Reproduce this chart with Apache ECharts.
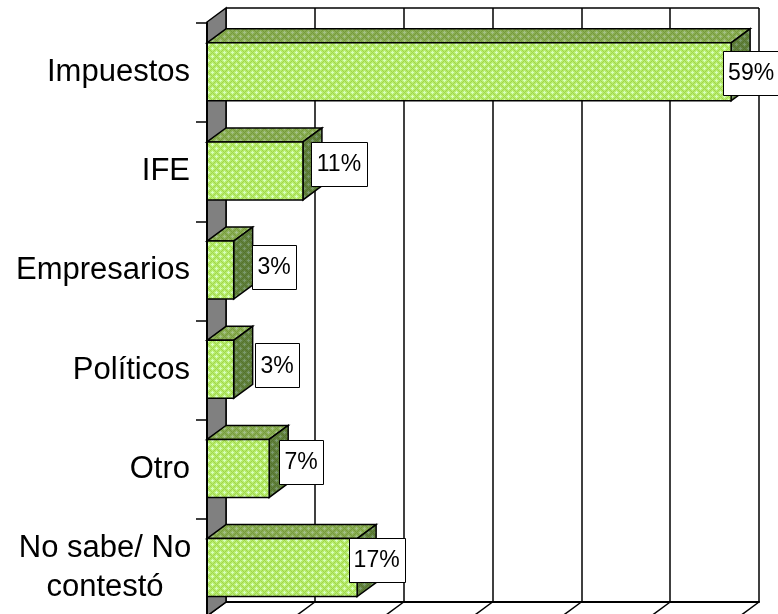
<!DOCTYPE html>
<html>
<head>
<meta charset="utf-8">
<style>html,body{margin:0;padding:0;background:#fff}#c{width:778px;height:614px}</style>
<script src="https://cdn.jsdelivr.net/npm/echarts@6/dist/echarts.min.js"></script>
</head>
<body>
<div id="c"></div>
<script>
const categories = ['Impuestos', 'IFE', 'Empresarios', 'Políticos', 'Otro', 'No sabe/ No\ncontestó'];
const values = [59, 10.8, 3, 3, 7, 16.9];
const valueTicks = [0, 10, 20, 30, 40, 50, 60];
// hand-placed data label nudges in the original (dx from bar end, dy from bar centre)
const labelDx = [20, 36, 40.5, 43.5, 32, 19.5];
const labelDy = [1.2, -7.2, -3.2, -4.1, -6.8, -8];

const DEPTH_X = 19, DEPTH_Y = 14, BAR_H = 58, BAR_SHIFT = -0.8;
const FONT = '"Liberation Sans", Arial, sans-serif';

function pattern(base, light, dark) {
  const s = 8, cv = document.createElement('canvas');
  cv.width = s; cv.height = s;
  const g = cv.getContext('2d');
  g.fillStyle = base; g.fillRect(0, 0, s, s);
  g.fillStyle = dark;
  for (let i = 0; i < s; i++) {
    g.fillRect(i, i, 1, 1);
    g.fillRect(i, (s - i) % s, 1, 1);
  }
  g.fillStyle = light;
  [[4,0],[0,4]].forEach(([x, y]) => {
    [[0,0],[1,0],[-1,0],[0,1],[0,-1]].forEach(([a, b]) => g.fillRect((x+a+s)%s, (y+b+s)%s, 1, 1));
  });
  return { image: cv, repeat: 'repeat' };
}
const frontFill = pattern('#b8ec70', '#d8ffc0', '#a0d848');
const topFill = pattern('#8aae54', '#a4c088', '#769a3c');
const sideFill = pattern('#62823e', '#7c9a70', '#54722c');
const wallFill = '#808080';

function renderBar(params, api) {
  const idx = api.value(2);
  const p0 = api.coord([0, idx]);
  const p1 = api.coord([api.value(0), idx]);
  const x0 = p0[0], x1 = p1[0], yc = p1[1] + BAR_SHIFT;
  const t = yc - BAR_H / 2, b = yc + BAR_H / 2;
  const line = { stroke: '#000', lineWidth: 1.5 };
  const poly = (pts, fill) => ({ type: 'polygon', shape: { points: pts }, style: Object.assign({ fill }, line) });
  const cx = x1 + labelDx[idx], cy = yc + labelDy[idx];
  const txt = Math.round(api.value(1));
  const w = String(txt).length > 1 ? 56 : 44, h = 44;
  return {
    type: 'group',
    children: [
      poly([[x0, t], [x0 + DEPTH_X, t - DEPTH_Y], [x1 + DEPTH_X, t - DEPTH_Y], [x1, t]], topFill),
      poly([[x1, t], [x1 + DEPTH_X, t - DEPTH_Y], [x1 + DEPTH_X, b - DEPTH_Y], [x1, b]], sideFill),
      poly([[x0, t], [x1, t], [x1, b], [x0, b]], frontFill),
      { type: 'rect', shape: { x: Math.round(cx - w / 2) + 0.5, y: Math.round(cy - h / 2) + 0.5, width: w, height: h },
        style: { fill: '#fff', stroke: '#000', lineWidth: 1 } },
      { type: 'text', x: cx, y: cy + 1,
        style: { text: txt + '%', fill: '#000', font: '23px ' + FONT, align: 'center', verticalAlign: 'middle' } }
    ]
  };
}

function renderWall(params, api) {
  const top = api.coord([0, 1]), bot = api.coord([0, 0]);
  return {
    type: 'polygon',
    shape: { points: [[top[0] - DEPTH_X, top[1] + DEPTH_Y], top, bot, [bot[0] - DEPTH_X, bot[1] + DEPTH_Y]] },
    style: { fill: wallFill, stroke: '#000', lineWidth: 1.5 }
  };
}

function renderFloorTick(params, api) {
  const p = api.coord([api.value(0), 0]);
  return { type: 'line', shape: { x1: p[0], y1: p[1], x2: p[0] - DEPTH_X, y2: p[1] + DEPTH_Y },
    style: { stroke: '#000', lineWidth: 1.5 } };
}

const chart = echarts.init(document.getElementById('c'), null, { renderer: 'canvas', width: 778, height: 614 });
chart.setOption({
  animation: false,
  backgroundColor: '#fff',
  grid: [
    { left: 226, top: 8, width: 533, height: 594, outerBoundsMode: 'none' },
    { left: 207, top: 23, width: 533, height: 595, outerBoundsMode: 'none' }
  ],
  xAxis: [
    { gridIndex: 0, type: 'value', min: 0, max: 60, interval: 10,
      axisLabel: { show: false }, axisTick: { show: false },
      axisLine: { show: true, onZero: false, lineStyle: { color: '#000', width: 2 } },
      splitLine: { show: true, lineStyle: { color: '#000', width: 1.5 } } },
    { gridIndex: 1, type: 'value', min: 0, max: 60, interval: 10, show: false }
  ],
  yAxis: [
    { gridIndex: 0, type: 'value', min: 0, max: 1, interval: 1,
      axisLabel: { show: false }, axisTick: { show: false }, axisLine: { show: false },
      splitLine: { show: true, lineStyle: { color: '#000', width: 1.5 } } },
    { gridIndex: 1, type: 'category', data: categories, inverse: true, z: 6,
      axisLine: { show: true, lineStyle: { color: '#000', width: 2 } },
      axisTick: { show: true, length: 11, lineStyle: { color: '#000', width: 1.5 } },
      axisLabel: {
        interval: 0, margin: 17, color: '#000', fontFamily: FONT, fontSize: 31,
        formatter: v => v.includes('\n') ? v.split('\n').map(l => '{c|' + l + '}').join('\n') : v,
        rich: { c: { width: 170, align: 'center', fontSize: 31, lineHeight: 39, fontFamily: FONT, color: '#000' } }
      },
      splitLine: { show: false } }
  ],
  series: [
    { type: 'custom', xAxisIndex: 0, yAxisIndex: 0, z: 1, silent: true, clip: false,
      renderItem: renderFloorTick, data: valueTicks.map(v => [v]), encode: { x: 0 } },
    { type: 'custom', xAxisIndex: 0, yAxisIndex: 0, z: 2, silent: true, clip: false,
      renderItem: renderWall, data: [[0, 1]], encode: { x: 0, y: 1 } },
    { type: 'custom', xAxisIndex: 1, yAxisIndex: 1, z: 3, silent: true, clip: false,
      renderItem: renderBar,
      data: values.map((v, i) => [v, v, i]),
      encode: { x: 0, y: 2 } }
  ]
});
</script>
</body>
</html>
